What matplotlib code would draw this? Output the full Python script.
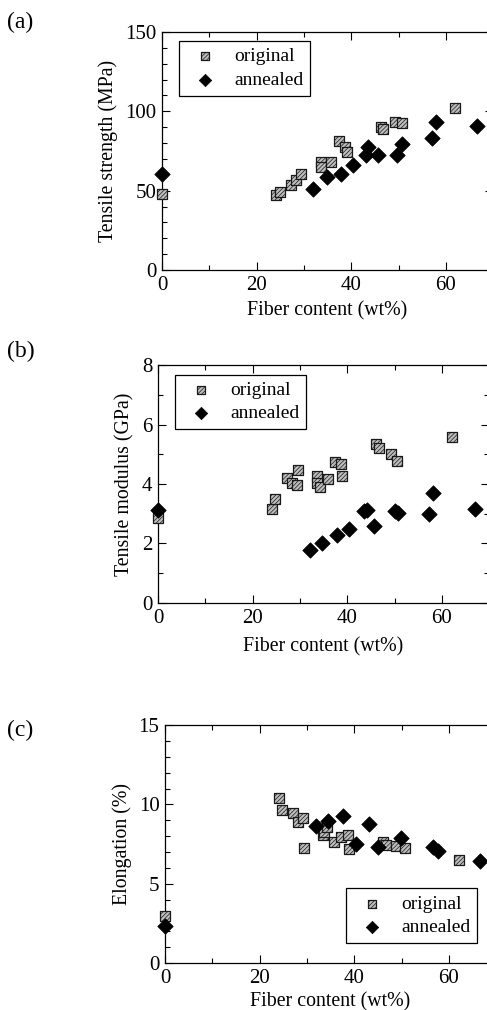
import numpy as np
import matplotlib.pyplot as plt
from matplotlib.ticker import MultipleLocator

plt.rcParams['font.family'] = ['Liberation Serif', 'DejaVu Serif']
plt.rcParams['hatch.linewidth'] = 0.5

# (a) tensile strength, MPa
ts_orig_x = [0, 24.1, 24.9, 27.3, 28.3, 29.4, 33.6, 33.6, 35.8, 37.5, 38.7, 39.0, 46.3, 46.8, 49.2, 50.8, 61.9]
ts_orig_y = [48, 47, 49, 53.4, 57, 60.8, 68, 65, 68, 81, 77.6, 74.5, 90, 88.6, 93, 92.8, 102]
ts_ann_x = [0, 32.0, 34.8, 37.8, 40.4, 43.2, 43.6, 45.6, 49.7, 50.8, 57.0, 58.0, 66.6]
ts_ann_y = [60.8, 51.3, 58.6, 60.8, 66, 72.4, 77.6, 72.4, 72.4, 79.7, 83, 93.5, 90.7]

# (b) tensile modulus, GPa
tm_orig_x = [0, 24.2, 24.8, 27.3, 28.3, 29.3, 29.5, 33.7, 33.7, 34.2, 36.0, 37.4, 38.6, 39.0, 46.1, 46.8, 49.3, 50.6, 62.2]
tm_orig_y = [2.87, 3.15, 3.48, 4.2, 4.04, 3.95, 4.47, 4.26, 4.04, 3.9, 4.17, 4.75, 4.67, 4.28, 5.33, 5.2, 5.0, 4.78, 5.59]
tm_ann_x = [0, 32.1, 34.6, 37.9, 40.4, 43.6, 44.1, 45.7, 50.0, 50.8, 57.2, 58.1, 67.0]
tm_ann_y = [3.12, 1.77, 2.03, 2.28, 2.5, 3.1, 3.12, 2.58, 3.1, 3.03, 2.99, 3.71, 3.15]

# (c) elongation, %
el_orig_x = [0.1, 24.2, 24.7, 27.0, 28.2, 29.1, 29.3, 33.4, 33.7, 34.3, 35.8, 37.3, 38.6, 38.8, 46.1, 46.7, 48.9, 50.7, 62.1]
el_orig_y = [2.98, 10.4, 9.65, 9.48, 8.92, 9.13, 7.24, 8.08, 8.29, 8.6, 7.66, 7.97, 8.08, 7.17, 7.66, 7.45, 7.38, 7.28, 6.5]
el_ann_x = [0.1, 31.9, 34.4, 37.7, 40.4, 43.2, 45.1, 49.8, 56.6, 57.8, 66.5]
el_ann_y = [2.35, 8.64, 8.98, 9.29, 7.51, 8.77, 7.3, 7.87, 7.34, 7.07, 6.46]

fig = plt.figure(figsize=(4.87, 10.10), dpi=100)

panels = [
    (0.3327, 0.7327, ts_orig_x, ts_orig_y, ts_ann_x, ts_ann_y, 150, 50, 10,
     'Tensile strength (MPa)', 'upper left', (0.051, 0.962), '(a)', 0.978, 5),
    (0.3244, 0.4030, tm_orig_x, tm_orig_y, tm_ann_x, tm_ann_y, 8, 2, 1,
     'Tensile modulus (GPa)', 'upper left', (0.05, 0.96), '(b)', 0.652, 7),
    (0.3388, 0.0465, el_orig_x, el_orig_y, el_ann_x, el_ann_y, 15, 5, 1,
     'Elongation (%)', 'lower right', (0.943, 0.084), '(c)', 0.277, 3),
]

for (left, bottom, ox, oy, ax_, ay, ymax, maj, mnr, ylab, loc, anchor, tag, tagy, xpad) in panels:
    ax = fig.add_axes([left, bottom, 0.680, 0.2356])
    ax.scatter(ox, oy, marker='s', s=52, facecolor='#bdbdbd', edgecolor='#1a1a1a',
               linewidths=0.9, hatch='////////', label='original', zorder=3,
               clip_on=False)
    ax.scatter(ax_, ay, marker='D', s=62, facecolor='black', edgecolor='black',
               linewidths=0.5, label='annealed', zorder=3, clip_on=False)
    ax.set_xlim(0, 70)
    ax.set_ylim(0, ymax)
    ax.xaxis.set_major_locator(MultipleLocator(20))
    ax.xaxis.set_minor_locator(MultipleLocator(10))
    ax.yaxis.set_major_locator(MultipleLocator(maj))
    ax.yaxis.set_minor_locator(MultipleLocator(mnr))
    ax.tick_params(which='both', direction='in', top=True, right=True, labelsize=15,
                   width=0.8)
    ax.tick_params(which='major', length=6, pad=4)
    ax.tick_params(which='minor', length=3.5)
    for s in ax.spines.values():
        s.set_linewidth(0.9)
    ax.set_xlabel('Fiber content (wt%)', fontsize=14.3, labelpad=xpad)
    ax.set_ylabel(ylab, fontsize=14.3, labelpad=5)
    leg = ax.legend(loc=loc, bbox_to_anchor=anchor, borderaxespad=0, fontsize=14,
                    frameon=True, fancybox=False, edgecolor='black', framealpha=1,
                    handletextpad=0.5, borderpad=0.35, labelspacing=0.3,
                    handlelength=2.0, markerscale=0.8)
    leg.get_frame().set_linewidth(0.9)
    fig.text(0.015, tagy, tag, fontsize=17, va='center', ha='left')

fig.savefig('out.png', dpi=100)
